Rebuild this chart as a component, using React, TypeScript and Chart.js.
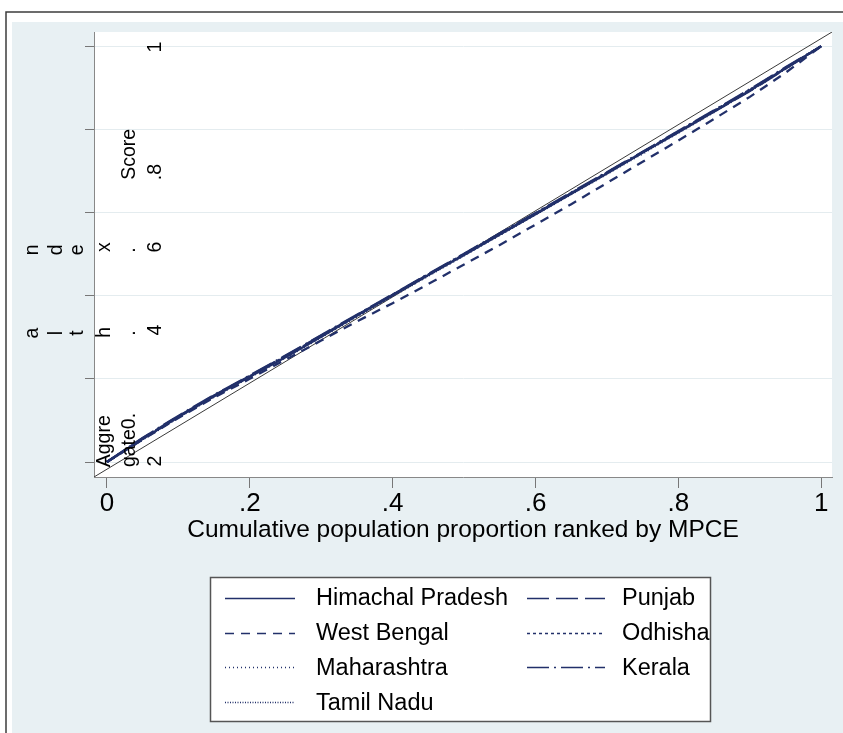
import React, { useEffect, useRef } from "react";
import { Chart, registerables } from "chart.js";

Chart.register(...registerables);

// ---------- data ----------
const seriesNames = [
  "Himachal Pradesh",
  "Punjab",
  "West Bengal",
  "Odhisha",
  "Maharashtra",
  "Kerala",
  "Tamil Nadu",
];

const popShare = [0, 0.05, 0.1, 0.15, 0.2, 0.25, 0.3, 0.35, 0.4, 0.45, 0.5, 0.55, 0.6, 0.65, 0.7, 0.75, 0.8, 0.85, 0.9, 0.95, 1];

const himachalPradesh = [0, 0.055, 0.108, 0.158, 0.205, 0.252, 0.301, 0.352, 0.401, 0.45, 0.498, 0.547, 0.596, 0.645, 0.694, 0.744, 0.793, 0.843, 0.893, 0.947, 1];
const punjab = [0, 0.057, 0.11, 0.16, 0.207, 0.255, 0.304, 0.353, 0.402, 0.451, 0.499, 0.548, 0.597, 0.646, 0.695, 0.745, 0.794, 0.843, 0.892, 0.946, 1];
const westBengal = [0, 0.054, 0.106, 0.155, 0.2, 0.246, 0.292, 0.338, 0.382, 0.428, 0.475, 0.522, 0.571, 0.62, 0.671, 0.722, 0.773, 0.825, 0.878, 0.936, 1];
const odhisha = [0, 0.056, 0.109, 0.159, 0.206, 0.254, 0.303, 0.353, 0.402, 0.451, 0.5, 0.549, 0.598, 0.647, 0.696, 0.745, 0.795, 0.845, 0.895, 0.948, 1];
const maharashtra = [0, 0.054, 0.107, 0.157, 0.204, 0.251, 0.3, 0.35, 0.399, 0.448, 0.497, 0.546, 0.595, 0.644, 0.693, 0.742, 0.792, 0.842, 0.892, 0.946, 1];
const kerala = [0, 0.058, 0.111, 0.161, 0.208, 0.256, 0.305, 0.354, 0.403, 0.452, 0.501, 0.55, 0.599, 0.648, 0.697, 0.746, 0.796, 0.846, 0.896, 0.949, 1];
const tamilNadu = [0, 0.055, 0.108, 0.158, 0.206, 0.253, 0.302, 0.351, 0.4, 0.449, 0.498, 0.547, 0.596, 0.646, 0.695, 0.744, 0.794, 0.844, 0.894, 0.947, 1];

const seriesValues = [himachalPradesh, punjab, westBengal, odhisha, maharashtra, kerala, tamilNadu];

const xTickValues = [0, 0.2, 0.4, 0.6, 0.8, 1];
const xTickLabels = ["0", ".2", ".4", ".6", ".8", "1"];
const yTickValues = [0, 0.2, 0.4, 0.6, 0.8, 1];

const X_MIN = -0.018;
const X_MAX = 1.015;
const Y_MIN = -0.036;
const Y_MAX = 1.034;

const xAxisTitle = "Cumulative population proportion ranked by MPCE";

// y-axis title and tick labels as they are (scrambled) printed in the source
// col = text column, y = vertical centre in data units
const yTextPieces = [
  { text: "n", col: 0, y: 0.51 },
  { text: "a", col: 0, y: 0.31 },
  { text: "d", col: 1, y: 0.51 },
  { text: "l", col: 1, y: 0.31 },
  { text: "e", col: 2, y: 0.51 },
  { text: "t", col: 2, y: 0.31 },
  { text: "x", col: 3, y: 0.517 },
  { text: "h", col: 3, y: 0.312 },
  { text: "Aggre", col: 3, y: 0.05 },
  { text: "Score", col: 4, y: 0.74 },
  { text: ".", col: 4, y: 0.51 },
  { text: ".", col: 4, y: 0.31 },
  { text: "gate0.", col: 4, y: 0.053 },
  { text: "1", col: 5, y: 0.998 },
  { text: ".8", col: 5, y: 0.697 },
  { text: "6", col: 5, y: 0.517 },
  { text: "4", col: 5, y: 0.317 },
  { text: "2", col: 5, y: 0.002 },
];

// ---------- styles ----------
const FONT = "'Liberation Sans', Arial, Helvetica, sans-serif";
const LINE_COLOR = "#22306a";
const dashes: number[][] = [[], [22, 7], [9, 7], [3, 3], [1, 3], [22, 5, 2, 5], [1, 1.5]];
const colBaselines = [-56, -32, -11, 16, 41, 67];

const framePlugin = {
  id: "frame",
  beforeDraw(chart: any) {
    const { ctx, width, height, chartArea: ca } = chart;
    ctx.save();
    ctx.fillStyle = "#ffffff";
    ctx.fillRect(0, 0, width, height);
    ctx.fillStyle = "#e8f0f3";
    ctx.fillRect(12, 22, width - 12, height - 22);
    ctx.strokeStyle = "#3c3c3c";
    ctx.lineWidth = 1.5;
    ctx.beginPath();
    ctx.moveTo(6, height);
    ctx.lineTo(6, 12);
    ctx.lineTo(width, 12);
    ctx.stroke();
    ctx.fillStyle = "#ffffff";
    ctx.fillRect(ca.left, ca.top, ca.right - ca.left, ca.bottom - ca.top);
    ctx.restore();
  },
};

const yTextPlugin = {
  id: "yText",
  afterDraw(chart: any) {
    const { ctx, chartArea: ca } = chart;
    const ys = chart.scales.y;
    ctx.save();
    ctx.fillStyle = "#000";
    ctx.font = `19.5px ${FONT}`;
    ctx.textAlign = "center";
    ctx.textBaseline = "alphabetic";
    for (const p of yTextPieces) {
      ctx.save();
      ctx.translate(ca.left + colBaselines[p.col], ys.getPixelForValue(p.y));
      ctx.rotate(-Math.PI / 2);
      ctx.fillText(p.text, 0, 0);
      ctx.restore();
    }
    ctx.restore();
  },
};

const legendPlugin = {
  id: "customLegend",
  afterDraw(chart: any) {
    const { ctx, chartArea: ca } = chart;
    const left = ca.left + 116;
    const top = ca.bottom + 100;
    const w = 500;
    const h = 144;
    ctx.save();
    ctx.fillStyle = "#ffffff";
    ctx.fillRect(left, top, w, h);
    ctx.strokeStyle = "#555";
    ctx.lineWidth = 1.5;
    ctx.strokeRect(left + 0.5, top + 0.5, w, h);
    ctx.font = `23.5px ${FONT}`;
    ctx.textBaseline = "middle";
    ctx.textAlign = "left";
    seriesNames.forEach((name, i) => {
      const col = i % 2;
      const row = Math.floor(i / 2);
      const y = top + 21 + row * 34.7;
      const x0 = left + (col ? 317 : 15);
      const x1 = left + (col ? 395 : 85);
      const tx = left + (col ? 412 : 106);
      ctx.strokeStyle = LINE_COLOR;
      ctx.lineWidth = 1.5;
      ctx.setLineDash(dashes[i]);
      ctx.beginPath();
      ctx.moveTo(x0, Math.round(y) + 0.5);
      ctx.lineTo(x1, Math.round(y) + 0.5);
      ctx.stroke();
      ctx.setLineDash([]);
      ctx.fillStyle = "#000";
      ctx.fillText(name, tx, y + 1);
    });
    ctx.restore();
  },
};

export default function App() {
  const ref = useRef<HTMLCanvasElement | null>(null);

  useEffect(() => {
    document.body.style.margin = "0";
    const canvas = ref.current;
    if (!canvas) return;

    const datasets: any[] = seriesNames.map((name, i) => ({
      label: name,
      data: popShare.map((x, k) => ({ x, y: seriesValues[i][k] })),
      showLine: true,
      borderColor: LINE_COLOR,
      borderWidth: 2.3,
      borderDash: dashes[i],
      pointRadius: 0,
      tension: 0,
      fill: false,
    }));
    datasets.push({
      label: "equality",
      data: [
        { x: X_MIN, y: Y_MIN },
        { x: X_MAX, y: Y_MAX },
      ],
      showLine: true,
      borderColor: "#3a3a3a",
      borderWidth: 1,
      pointRadius: 0,
      fill: false,
    });

    const chart = new Chart(canvas, {
      type: "scatter",
      data: { datasets },
      options: {
        responsive: false,
        animation: false,
        layout: { padding: { left: 84, top: 32, right: 11, bottom: 156 } },
        plugins: { legend: { display: false }, tooltip: { enabled: false } },
        scales: {
          x: {
            type: "linear",
            min: X_MIN,
            max: X_MAX,
            afterBuildTicks: (s: any) => {
              s.ticks = xTickValues.map((v) => ({ value: v }));
            },
            afterFit: (s: any) => {
              s.height = 100;
            },
            ticks: {
              callback: (v: any) => {
                const i = xTickValues.indexOf(Number(v));
                return i >= 0 ? xTickLabels[i] : "";
              },
              font: { size: 26, family: FONT },
              color: "#000",
              padding: 0,
              maxRotation: 0,
              autoSkip: false,
            },
            grid: {
              drawOnChartArea: false,
              drawTicks: true,
              tickLength: 11,
              color: "#777",
              tickColor: "#777",
            },
            border: { display: true, color: "#888", width: 1 },
            title: {
              display: true,
              text: xAxisTitle,
              color: "#000",
              font: { size: 24.5, family: FONT },
              padding: { top: 0, bottom: 32 },
            },
          },
          y: {
            type: "linear",
            min: Y_MIN,
            max: Y_MAX,
            afterBuildTicks: (s: any) => {
              s.ticks = yTickValues.map((v) => ({ value: v }));
            },
            afterFit: (s: any) => {
              s.width = 10;
            },
            ticks: { display: false },
            grid: {
              color: "#e4ecef",
              tickColor: "#777",
              tickLength: 9,
              drawTicks: true,
              lineWidth: 1,
            },
            border: { display: true, color: "#888", width: 1 },
          },
        },
      },
      plugins: [framePlugin, yTextPlugin, legendPlugin],
    });

    return () => chart.destroy();
  }, []);

  return (
    <div style={{ position: "absolute", left: 0, top: 0, width: 843, height: 733 }}>
      <canvas ref={ref} width={843} height={733} />
    </div>
  );
}
